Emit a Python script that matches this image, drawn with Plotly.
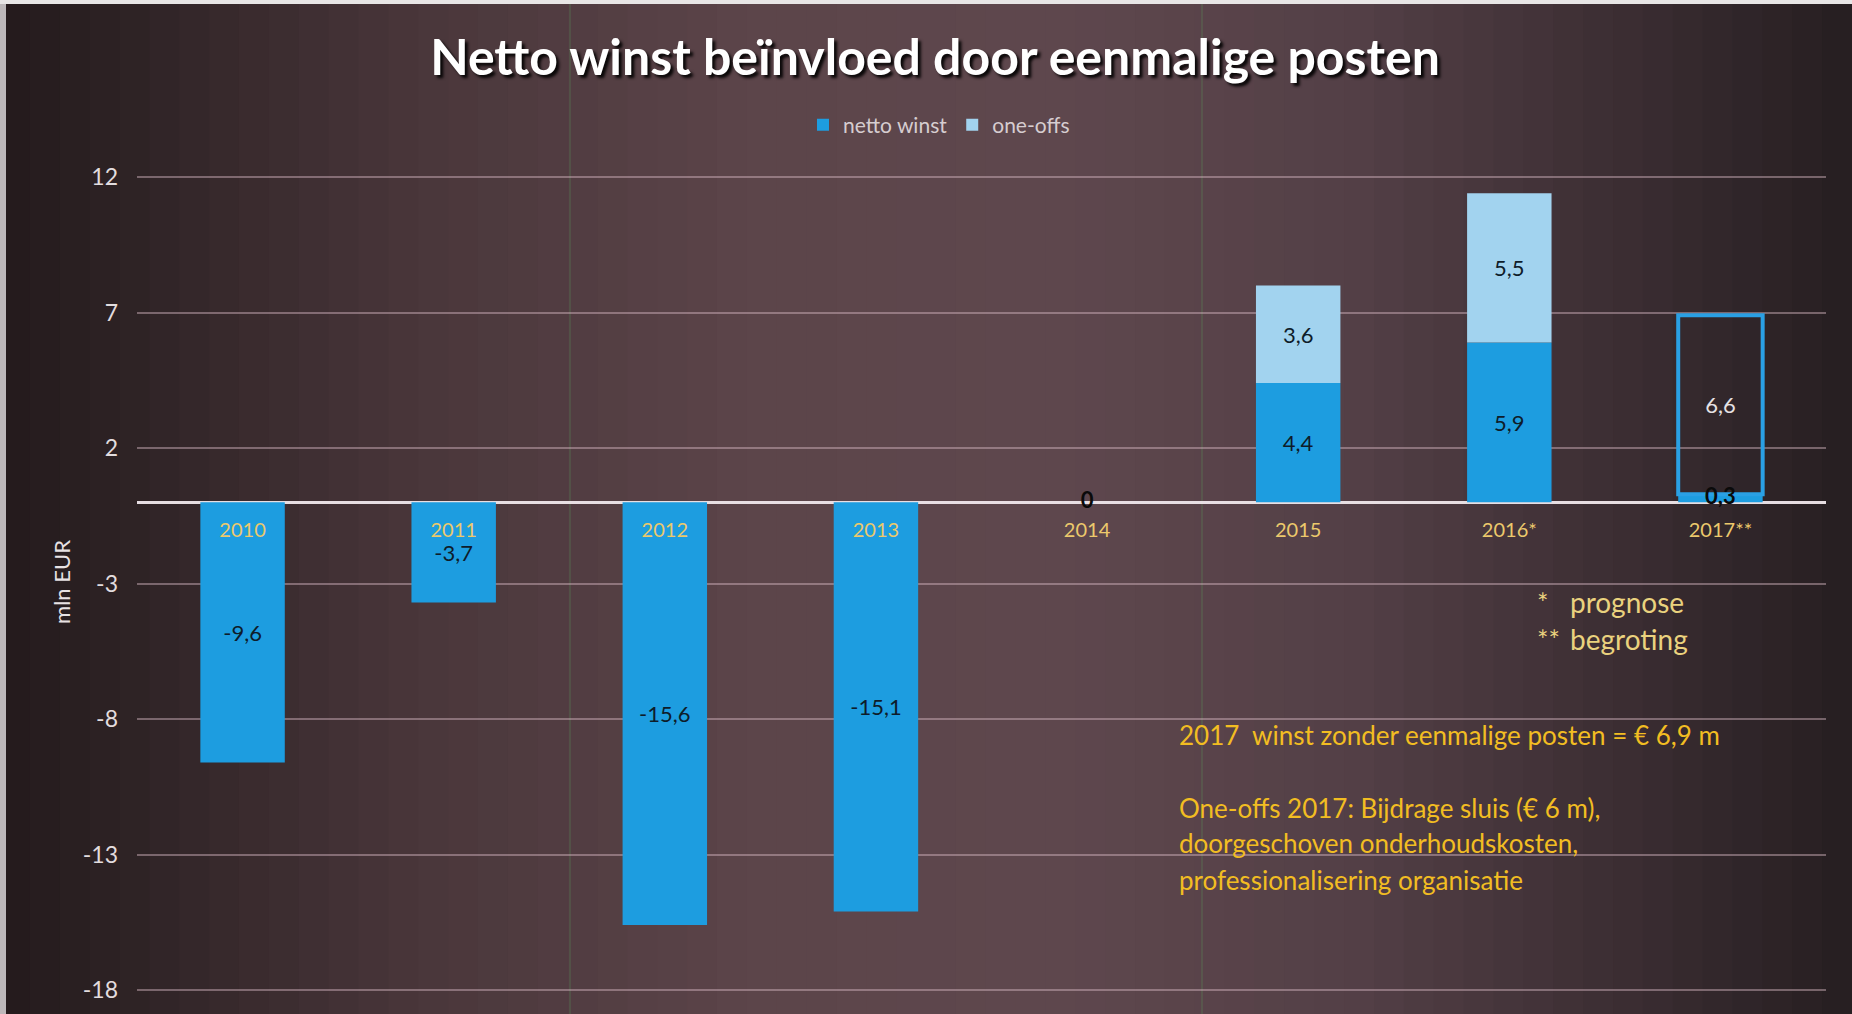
import plotly.graph_objects as go

# ---- data ----
categories = ["2010", "2011", "2012", "2013", "2014", "2015", "2016*", "2017**"]
netto_winst = [-9.6, -3.7, -15.6, -15.1, 0, 4.4, 5.9, 0.3]
one_offs = [None, None, None, None, None, 3.6, 5.5, 6.6]
y_ticks = [12, 7, 2, -3, -8, -13, -18]

title_text = "Netto winst beïnvloed door eenmalige posten"
note_lines = ["2017  winst zonder eenmalige posten = € 6,9 m",
              "One-offs 2017: Bijdrage sluis (€ 6 m),",
              "doorgeschoven onderhoudskosten,",
              "professionalisering organisatie"]

def fmt(v):
    if v is None:
        return ""
    if v == 0:
        return "0"
    return f"{v:.1f}".replace(".", ",")

# ---- geometry ----
W, H = 1852, 1014
ML, MR, MT, MB = 137, 26, 150, 0
PW, PH = W - ML - MR, H - MT - MB
YMIN, YMAX = -18.886, 13.0

def px_x(px):
    return (px - ML) / PW

def px_y(py):
    return (H - MB - py) / PH

FONT = "Lato"
BLUE = "#1d9de0"
LIGHT = "#a2d3ef"
GOLD = "#f2bd22"
LABEL_DARK = "#0e1c2a"

fig = go.Figure()

# small bars whose labels do not fit inside are labelled by a text trace
small = [abs(v) < 1 for v in netto_winst]

fig.add_trace(go.Bar(
    name="netto winst", x=categories, y=netto_winst,
    marker=dict(color=BLUE, line=dict(width=0)),
    text=["" if s else fmt(v) for v, s in zip(netto_winst, small)],
    textposition="inside", insidetextanchor="middle", constraintext="none",
    textfont=dict(family=FONT, size=22, color=LABEL_DARK),
    hoverinfo="skip",
))

oo_colors = [LIGHT] * 7 + ["rgba(0,0,0,0)"]
oo_line_w = [0] * 7 + [4]
oo_text_col = [LABEL_DARK] * 7 + ["#e6e2e4"]
fig.add_trace(go.Bar(
    name="one-offs", x=categories, y=one_offs,
    marker=dict(color=oo_colors, line=dict(width=oo_line_w, color="#2aa0e4")),
    text=[fmt(v) for v in one_offs],
    textposition="inside", insidetextanchor="middle", constraintext="none",
    textfont=dict(family=FONT, size=22, color=oo_text_col),
    hoverinfo="skip",
))

sx = [c for c, s in zip(categories, small) if s]
sy = [v / 2 for v, s in zip(netto_winst, small) if s]
st = ["<b>" + fmt(v) + "</b>" for v, s in zip(netto_winst, small) if s]
fig.add_trace(go.Scatter(
    x=sx, y=sy, text=st, mode="text", showlegend=False, hoverinfo="skip",
    textposition="middle center", cliponaxis=False,
    textfont=dict(family=FONT, size=22, color="#0a0a0a"),
))

# ---- background vignette (horizontal gradient strips) ----
stops = [(0, (36, 27, 29)), (150, (48, 36, 39)), (420, (74, 55, 59)),
         (750, (92, 69, 74)), (1050, (95, 72, 78)), (1350, (84, 64, 71)),
         (1620, (60, 46, 51)), (1852, (38, 30, 33))]

def col_at(px):
    for (a, ca), (b, cb) in zip(stops[:-1], stops[1:]):
        if a <= px <= b:
            t = (px - a) / (b - a)
            return tuple(int(ca[i] + (cb[i] - ca[i]) * t) for i in range(3))
    return stops[-1][1]

shapes = []
n = 62
step = W / n
for i in range(n):
    x0 = i * step
    c = col_at(x0 + step / 2)
    shapes.append(dict(type="rect", xref="paper", yref="paper",
                       x0=px_x(x0), x1=px_x(x0 + step + 1), y0=-0.01, y1=px_y(-5),
                       fillcolor=f"rgb{c}", line=dict(width=0), layer="below"))
# faint scan lines
for lx in (570, 1202):
    shapes.append(dict(type="line", xref="paper", yref="paper",
                       x0=px_x(lx), x1=px_x(lx), y0=-0.01, y1=px_y(0),
                       line=dict(color="rgba(90,150,90,0.45)", width=1), layer="below"))
# scanned page edges
shapes.append(dict(type="rect", xref="paper", yref="paper", x0=px_x(-5), x1=px_x(6),
                   y0=-0.01, y1=px_y(-5), fillcolor="#bdb8ba", line=dict(width=0), layer="below"))
shapes.append(dict(type="rect", xref="paper", yref="paper", x0=px_x(-5), x1=px_x(W + 5),
                   y0=px_y(4), y1=px_y(-5), fillcolor="#e8e6e6", line=dict(width=0), layer="below"))

annotations = []
# footnotes
for txt, word, py in (("*", "prognose", 602), ("**", "begroting", 639)):
    annotations.append(dict(x=px_x(1535), y=px_y(py), xref="paper", yref="paper",
                            text=txt, showarrow=False, xanchor="left", yanchor="middle",
                            font=dict(family=FONT, size=27, color="#ead27e")))
    annotations.append(dict(x=px_x(1568), y=px_y(py), xref="paper", yref="paper",
                            text=word, showarrow=False, xanchor="left", yanchor="middle",
                            font=dict(family=FONT, size=28, color="#ead27e")))
# yellow notes
for txt, py in zip(note_lines, (735, 808, 843, 880)):
    annotations.append(dict(x=px_x(1177), y=px_y(py), xref="paper", yref="paper",
                            text=txt, showarrow=False, xanchor="left", yanchor="middle",
                            font=dict(family=FONT, size=26, color=GOLD)))

zero_pos = (0 - YMIN) / (YMAX - YMIN)

fig.update_layout(
    width=W, height=H,
    margin=dict(l=ML, r=MR, t=MT, b=MB, pad=0),
    paper_bgcolor="#4a383c", plot_bgcolor="rgba(0,0,0,0)",
    barmode="relative", bargap=0.6,
    separators=",.",
    showlegend=True,
    legend=dict(orientation="h", x=px_x(939), xanchor="center", y=px_y(125), yanchor="middle",
                font=dict(family=FONT, size=21, color="#d6cdd0"),
                bgcolor="rgba(0,0,0,0)", itemwidth=30, traceorder="normal"),
    title=dict(text=title_text, x=935 / W, xanchor="center", y=1 - 57 / H, yanchor="middle",
               font=dict(family=FONT, size=50, color="#ffffff", weight="bold",
                         shadow="3px 3px 3px rgba(0,0,0,0.9)")),
    xaxis=dict(type="category", range=[-0.5, 7.5], anchor="free", position=zero_pos,
               showgrid=False, zeroline=False, showline=False,
               ticks="outside", ticklen=10, tickcolor="rgba(0,0,0,0)",
               tickfont=dict(family=FONT, size=20, color="#ecc96c")),
    yaxis=dict(range=[YMIN, YMAX], tickvals=y_ticks, ticktext=[str(v) for v in y_ticks],
               showgrid=True, gridcolor="rgba(215,185,195,0.45)", gridwidth=1.5,
               zeroline=True, zerolinecolor="rgba(240,232,236,0.95)", zerolinewidth=2.5,
               showline=False, ticks="", ticklabelstandoff=18,
               tickfont=dict(family=FONT, size=23, color="#e2dcde"),
               title=dict(text="mln EUR", standoff=6,
                          font=dict(family=FONT, size=22, color="#e8e2e4"))),
    shapes=shapes, annotations=annotations,
    font=dict(family=FONT),
)

fig.write_html("out.html", config={"displayModeBar": False},
               post_script="document.body.style.margin='0';document.body.style.overflow='hidden';")
